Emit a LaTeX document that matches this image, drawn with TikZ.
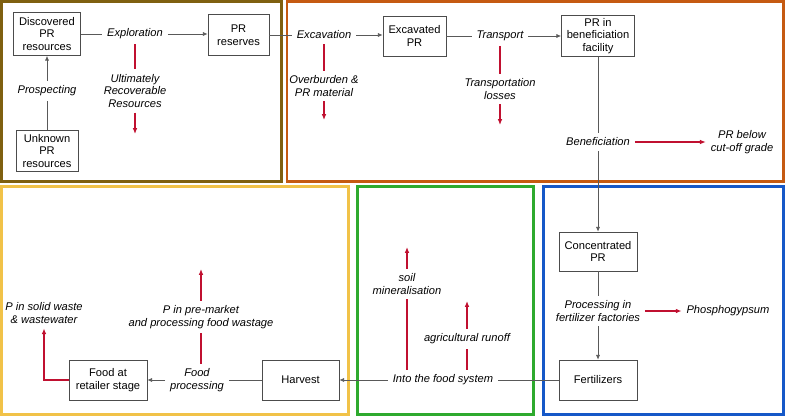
\documentclass[tikz,border=0pt]{standalone}
\usepackage{fontspec}
\setmainfont{Liberation Sans}
\usetikzlibrary{arrows.meta, positioning}
\definecolor{lossred}{RGB}{192,16,48}
\definecolor{mineframe}{RGB}{127,96,16}
\definecolor{processframe}{RGB}{197,90,17}
\definecolor{foodframe}{RGB}{241,194,72}
\definecolor{farmframe}{RGB}{46,170,46}
\definecolor{fertframe}{RGB}{21,88,200}

\begin{document}
\begin{tikzpicture}[x=0.03cm, y=-0.03cm, font=\fontsize{9.5}{10.8}\selectfont,
  box/.style = {draw=black!70, line width=0.6pt, align=center, minimum height=1.2cm, inner sep=2pt},
  lbl/.style = {align=center, font=\fontsize{9.5}{10.8}\selectfont\itshape, inner sep=4pt},
  flow/.style = {draw=black!65, line width=0.6pt},
  toward/.style = {flow, -{Latex[length=4pt,width=3.5pt]}},
  loss/.style = {draw=lossred, line width=1pt},
  lossto/.style = {loss, -{Latex[length=5pt,width=4pt]}},
  frame/.style = {line width=2.4pt}]
           \useasboundingbox (0,0) rectangle (785,416);

           % stage frames
           \draw[frame, mineframe]    (1.5,1.5)     rectangle (281.5,181.5);
           \draw[frame, processframe] (287,1.5)     rectangle (783.5,181.5);
           \draw[frame, foodframe]    (1.5,186.5)   rectangle (348.5,414.5);
           \draw[frame, farmframe]    (357.5,186.5) rectangle (533.5,414.5);
           \draw[frame, fertframe]    (543.5,186.5) rectangle (783.5,414.5);

           % stocks
           \node[box, minimum width=2.01cm, minimum height=1.29cm] (disc)   at (47,34)  {Discovered\\PR\\resources};
           \node[box, minimum width=1.86cm, minimum height=1.23cm] (unk)    at (47,151) {Unknown\\PR\\resources};
           \node[box, minimum width=1.83cm, minimum height=1.23cm] (res)    at (238.5,35) {PR\\reserves};
           \node[box, minimum width=1.89cm] (excbox) at (414.5,36)  {Excavated\\PR};
           \node[box, minimum width=2.19cm] (benbox) at (598,36)    {PR in\\beneficiation\\facility};
           \node[box, minimum width=2.34cm, minimum height=1.17cm] (conc) at (598,251.5) {Concentrated\\PR};
           \node[box, minimum width=2.34cm] (fert)   at (598,380)   {Fertilizers};
           \node[box, minimum width=2.31cm] (harv)   at (300.5,380) {Harvest};
           \node[box, minimum width=2.34cm] (retail) at (108,380)   {Food at\\retailer stage};

           % processes and losses
           \node[lbl] (expl)      at (135,34)  {Exploration};
           \node[lbl] (urr)       at (135,91)  {Ultimately\\Recoverable\\Resources};
           \node[lbl] (prosp)     at (47,91)   {Prospecting};
           \node[lbl] (excav)     at (324,35)  {Excavation};
           \node[lbl] (overb)     at (324,86)  {Overburden \&\\PR material};
           \node[lbl] (transp)    at (500,36)  {Transport};
           \node[lbl] (tlosses)   at (500,89)  {Transportation\\losses};
           \node[lbl] (benef)     at (598,142) {Beneficiation};
           \node[lbl] (cutoff)    at (742,142) {PR below\\cut-off grade};
           \node[lbl] (procf)     at (598,311) {Processing in\\fertilizer factories};
           \node[lbl] (phos)      at (728,311) {Phosphogypsum};
           \node[lbl] (intofood)  at (443,380) {Into the food system};
           \node[lbl] (soil)      at (407,284) {soil\\mineralisation};
           \node[lbl] (runoff)    at (467,339) {agricultural runoff};
           \node[lbl] (foodproc)  at (197,380) {Food\\processing};
           \node[lbl] (premarket) at (201,317) {P in pre-market\\and processing food wastage};
           \node[lbl] (solidw)    at (44,313)  {P in solid waste\\\& wastewater};

           \coordinate (urrend)  at (135,134);
           \coordinate (overend) at (324,120);
           \coordinate (tlend)   at (500,125);
           \coordinate (soilend) at (407,247);
           \coordinate (runend)  at (467,301);
           \coordinate (premend) at (201,269);

           \path
           (unk)      edge[flow]   (prosp)
           (prosp)    edge[toward] (disc)
           (disc)     edge[flow]   (expl)
           (expl)     edge[toward] (res.west |- expl)
           (res)      edge[flow]   (excav)
           (excav)    edge[toward] (excbox.west |- excav)
           (excbox)   edge[flow]   (transp)
           (transp)   edge[toward] (benbox)
           (benbox)   edge[flow]   (benef)
           (benef)    edge[toward] (conc)
           (conc)     edge[flow]   (procf)
           (procf)    edge[toward] (fert)
           (fert)     edge[flow]   (intofood)
           (intofood) edge[toward] (harv)
           (harv)     edge[flow]   (foodproc)
           (foodproc) edge[toward] (retail);

           \path
           (expl)      edge[loss]   (urr)
           (urr)       edge[lossto] (urrend)
           (excav)     edge[loss]   (overb)
           (overb)     edge[lossto] (overend)
           (transp)    edge[loss]   (tlosses)
           (tlosses)   edge[lossto] (tlend)
           (benef)     edge[lossto] (cutoff)
           (procf)     edge[lossto] (phos)
           (premarket) edge[lossto] (premend)
           (soil)      edge[lossto] (soilend)
           (runoff)    edge[lossto] (runend);
           \draw[loss] (premarket.south |- foodproc.north) -- (premarket.south);
           \draw[loss] (soil.south |- intofood.north) -- (soil.south);
           \draw[loss] (runoff.south |- intofood.north) -- (runoff.south);
           \draw[lossto] (retail.west) -| (solidw.south);
         \end{tikzpicture}
\end{document}
